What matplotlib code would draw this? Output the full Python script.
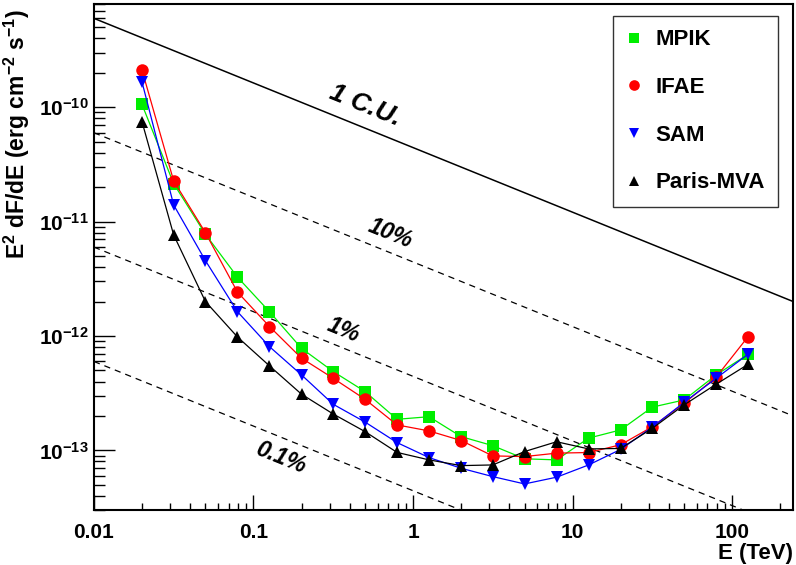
import numpy as np
import matplotlib
matplotlib.use("Agg")
import matplotlib.pyplot as plt
from matplotlib.ticker import LogLocator, FuncFormatter, NullFormatter

plt.rcParams["font.family"] = ["Liberation Sans", "DejaVu Sans"]
plt.rcParams["font.weight"] = "bold"
plt.rcParams["mathtext.fontset"] = "custom"
plt.rcParams["mathtext.rm"] = "Liberation Sans:bold"
plt.rcParams["mathtext.it"] = "Liberation Sans:bold"
plt.rcParams["mathtext.bf"] = "Liberation Sans:bold"

# bin centres (TeV)
energy = [0.02, 0.0316, 0.05, 0.0794, 0.126, 0.2, 0.316, 0.5, 0.794, 1.26,
          2.0, 3.16, 5.0, 7.94, 12.6, 20.0, 31.6, 50.0, 79.4, 126.0]

# sensitivity curves, E^2 dF/dE (erg cm^-2 s^-1)
mpik = [1.06e-10, 2.15e-11, 7.75e-12, 3.27e-12, 1.63e-12, 7.8e-13, 4.89e-13, 3.27e-13,
        1.87e-13, 1.97e-13, 1.32e-13, 1.10e-13, 8.44e-14, 8.26e-14, 1.28e-13, 1.51e-13,
        2.39e-13, 2.76e-13, 4.57e-13, 6.93e-13]
ifae = [2.12e-10, 2.27e-11, 8.0e-12, 2.42e-12, 1.21e-12, 6.4e-13, 4.27e-13, 2.8e-13,
        1.67e-13, 1.48e-13, 1.22e-13, 8.95e-14, 8.83e-14, 9.46e-14, 9.58e-14, 1.12e-13,
        1.61e-13, 2.58e-13, 4.37e-13, 9.89e-13]
sam = [1.67e-10, 1.40e-11, 4.56e-12, 1.63e-12, 8.07e-13, 4.57e-13, 2.53e-13, 1.77e-13,
       1.17e-13, 8.65e-14, 6.98e-14, 5.9e-14, 5.09e-14, 5.83e-14, 7.46e-14, 1.02e-13,
       1.6e-13, 2.63e-13, 4.27e-13, 6.95e-13]
paris = [7.5e-11, 7.65e-12, 2.0e-12, 9.8e-13, 5.48e-13, 3.1e-13, 2.08e-13, 1.46e-13,
         9.6e-14, 8.26e-14, 7.36e-14, 7.46e-14, 9.77e-14, 1.19e-13, 1.03e-13, 1.04e-13,
         1.56e-13, 2.5e-13, 3.79e-13, 5.66e-13]

# Crab unit: E^2 dF/dE = norm * E^slope (E in TeV)
crab_norm = 4.44e-11
crab_slope = -0.565
cu_fractions = [1.0, 0.1, 0.01, 0.001]
cu_labels = ["1 C.U.", "10%", "1%", "0.1%"]

xmin, xmax = 0.01, 240
ymin, ymax = 3e-14, 8e-10

fig = plt.figure(figsize=(7.96, 5.65), dpi=100)
ax = fig.add_axes([0.118, 0.097, 0.878, 0.896])

# Crab reference lines
e_line = np.array([xmin, xmax])
for frac in cu_fractions:
    flux = frac * crab_norm * e_line ** crab_slope
    if frac == 1.0:
        ax.plot(e_line, flux, color="black", lw=1.1)
    else:
        ax.plot(e_line, flux, color="black", lw=0.9, ls=(0, (5, 4)))

series = [
    ("MPIK", mpik, "#00ee00", "s", 8),
    ("IFAE", ifae, "#ff0000", "o", 9),
    ("SAM", sam, "#0000ff", "v", 9),
    ("Paris-MVA", paris, "black", "^", 9),
]
handles = []
for name, vals, col, mk, ms in series:
    ax.plot(energy, vals, color=col, lw=0.9)
    h, = ax.plot(energy, vals, ls="none", marker=mk, ms=ms, color=col,
                 markeredgewidth=0, label=name)
    handles.append(h)

# labels along the lines
label_pos = [(0.5, 1.03e-10, 19), (0.72, 7.8e-12, 16.5), (0.364, 1.13e-12, 16.5), (0.149, 8.6e-14, 16.5)]
for txt, (lx, ly, fs) in zip(cu_labels, label_pos):
    ax.text(lx, ly, txt, fontsize=fs, fontweight="bold", style="italic",
            rotation=-22, rotation_mode="anchor", ha="center", va="center")

ax.set_xscale("log")
ax.set_yscale("log")
ax.set_xlim(xmin, xmax)
ax.set_ylim(ymin, ymax)

ax.xaxis.set_major_locator(LogLocator(base=10))
ax.xaxis.set_minor_locator(LogLocator(base=10, subs=np.arange(2, 10)))
ax.xaxis.set_major_formatter(FuncFormatter(lambda v, p: f"{v:g}"))
ax.xaxis.set_minor_formatter(NullFormatter())
ax.yaxis.set_major_locator(LogLocator(base=10))
ax.yaxis.set_minor_locator(LogLocator(base=10, subs=np.arange(2, 10)))
ax.yaxis.set_major_formatter(FuncFormatter(lambda v, p: "10$^{%d}$" % round(np.log10(v))))
ax.yaxis.set_minor_formatter(NullFormatter())

ax.tick_params(which="both", direction="in", top=False, right=False, width=1.0,
               labelsize=15)
ax.tick_params(axis="x", which="major", length=10.5, pad=9)
ax.tick_params(axis="x", which="minor", length=5)
ax.tick_params(axis="y", which="major", length=15, pad=4)
ax.tick_params(axis="y", which="minor", length=8)
for s in ax.spines.values():
    s.set_linewidth(1.5)

ax.set_xlabel("E (TeV)", fontsize=16, fontweight="bold", loc="right")
ax.xaxis.set_label_coords(1.0, -0.064)
ax.xaxis.label.set_va("top")
ax.set_ylabel("E$^{2}$ dF/dE (erg cm$^{-2}$ s$^{-1}$)", fontsize=16.5,
              fontweight="bold", loc="top")
ax.yaxis.set_label_coords(-0.088, 0.99)

leg = ax.legend(handles=handles, loc="upper left", bbox_to_anchor=(0.743, 0.976),
                fontsize=16, frameon=True, fancybox=False, edgecolor="black",
                handlelength=0.7, handletextpad=0.6, labelspacing=1.2,
                borderpad=0.6, borderaxespad=0.0, markerscale=0.85)
leg.get_frame().set_linewidth(1.0)

fig.savefig("out.png", dpi=100)
